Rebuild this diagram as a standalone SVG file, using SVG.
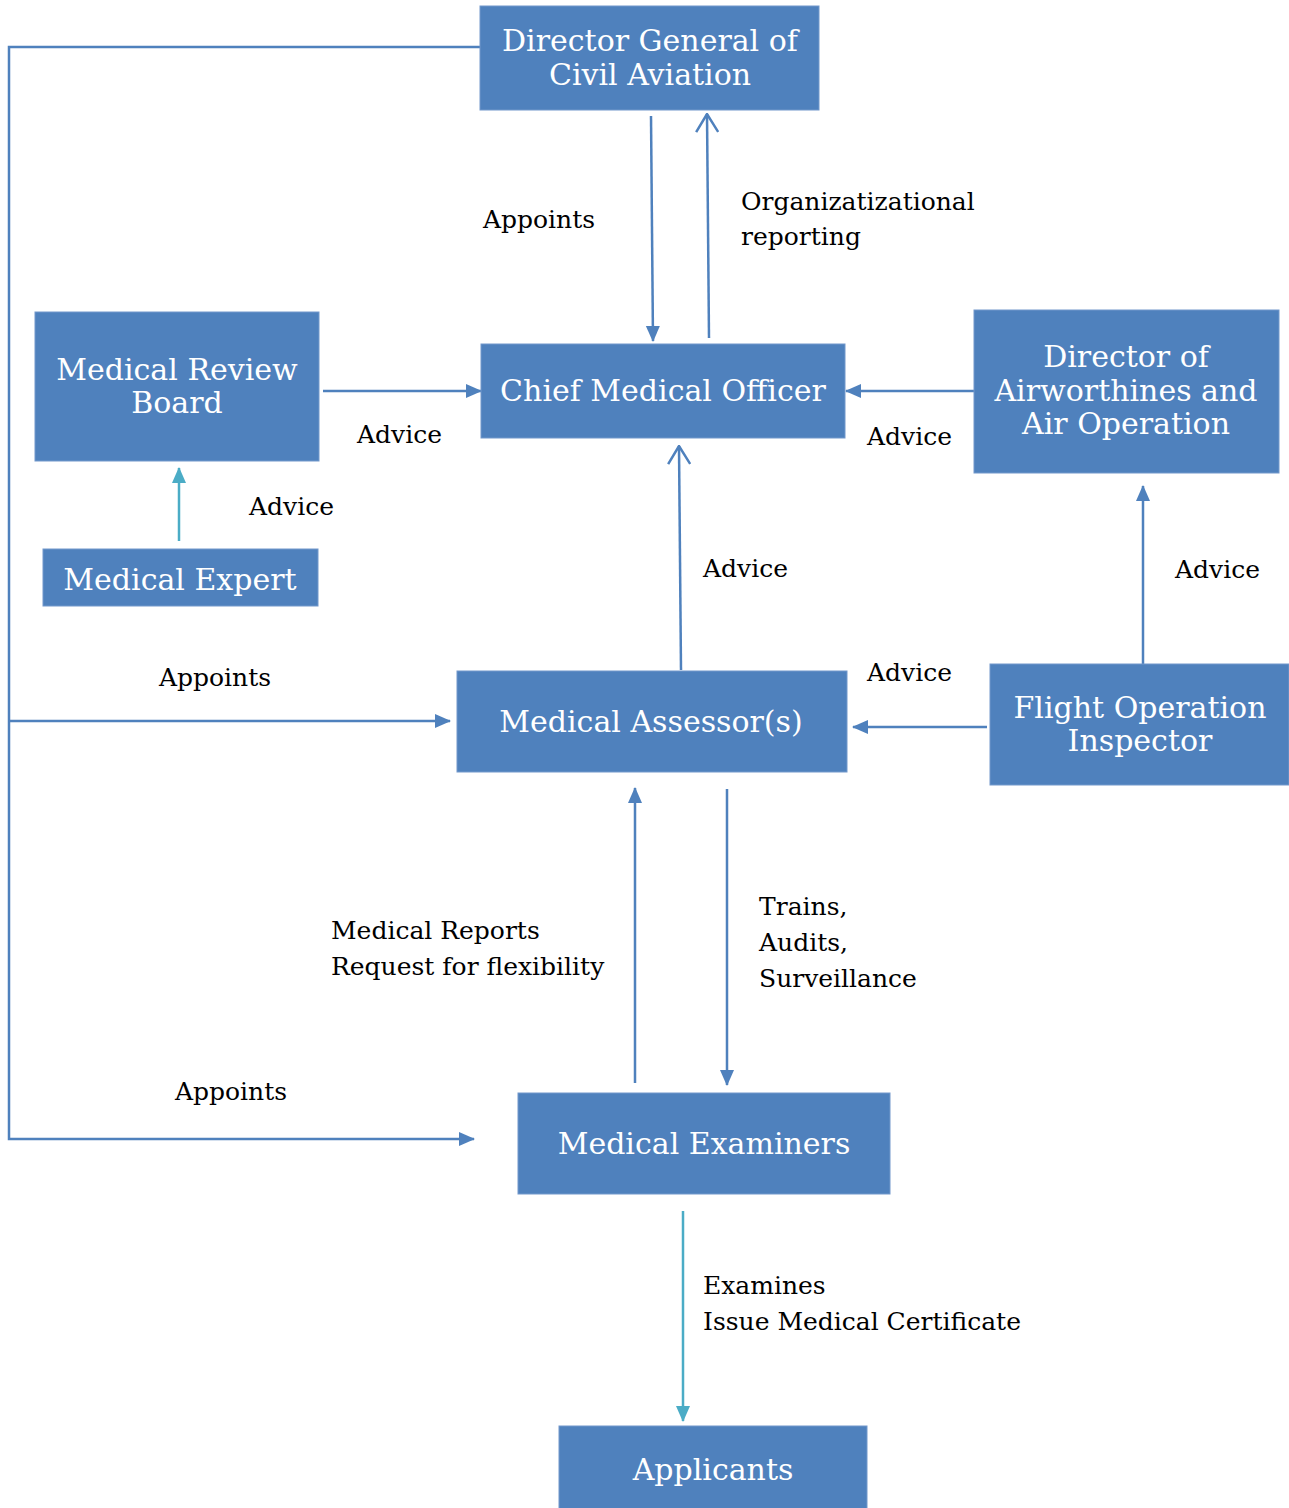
<svg xmlns="http://www.w3.org/2000/svg" width="1289" height="1508" viewBox="0 0 1289 1508">
<style>
.box{fill:#4f81bd;stroke:#7298cb;stroke-width:1}
.nt{font-family:"DejaVu Serif","Liberation Serif",serif;font-size:30px;fill:#ffffff;text-anchor:middle}
.lb{font-family:"DejaVu Serif","Liberation Serif",serif;font-size:25px;fill:#000000}
.ln{fill:none;stroke:#4f81bd;stroke-width:2.5}
.tl{fill:none;stroke:#4bacc6;stroke-width:2.5}
</style>
<defs>
<marker id="a" markerWidth="8" markerHeight="8" refX="7" refY="4" orient="auto" markerUnits="userSpaceOnUse" viewBox="0 0 8 8"><path d="M0,0 L8,4 L0,8 Z" fill="#4f81bd" transform="scale(1)"/></marker>
<marker id="af" markerWidth="16" markerHeight="16" refX="15" refY="8" orient="auto" markerUnits="userSpaceOnUse" viewBox="0 0 16 16"><path d="M0,1 L16,8 L0,15 Z" fill="#4f81bd"/></marker>
<marker id="at" markerWidth="16" markerHeight="16" refX="15" refY="8" orient="auto" markerUnits="userSpaceOnUse" viewBox="0 0 16 16"><path d="M0,1 L16,8 L0,15 Z" fill="#4bacc6"/></marker>
<marker id="ao" markerWidth="20" markerHeight="24" refX="19" refY="12" orient="auto" markerUnits="userSpaceOnUse" viewBox="0 0 20 24"><path d="M1,1 L19,12 L1,23" fill="none" stroke="#4f81bd" stroke-width="2.5"/></marker>
</defs>

<g id="connectors">
<polyline class="ln" points="480,47 9,47 9,1139 474,1139" marker-end="url(#af)"/>
<line class="ln" x1="9" y1="721" x2="450" y2="721" marker-end="url(#af)"/>
<line class="ln" x1="651" y1="116" x2="653" y2="341" marker-end="url(#af)"/>
<line class="ln" x1="709" y1="338" x2="707" y2="114" marker-end="url(#ao)"/>
<line class="ln" x1="323" y1="391" x2="481" y2="391" marker-end="url(#af)"/>
<line class="ln" x1="974" y1="391" x2="846" y2="391" marker-end="url(#af)"/>
<line class="tl" x1="179" y1="541" x2="179" y2="468" marker-end="url(#at)"/>
<line class="ln" x1="681" y1="670" x2="679" y2="446" marker-end="url(#ao)"/>
<line class="ln" x1="1143" y1="664" x2="1143" y2="486" marker-end="url(#af)"/>
<line class="ln" x1="987" y1="727" x2="853" y2="727" marker-end="url(#af)"/>
<line class="ln" x1="635" y1="1083" x2="635" y2="788" marker-end="url(#af)"/>
<line class="ln" x1="727" y1="789" x2="727" y2="1085" marker-end="url(#af)"/>
<line class="tl" x1="683" y1="1211" x2="683" y2="1421" marker-end="url(#at)"/>
</g>

<g id="dgca"><rect class="box" x="480" y="6" width="339" height="104"/>
<text class="nt" x="650" y="51">Director General of</text><text class="nt" x="650" y="85">Civil Aviation</text></g>

<g id="cmo"><rect class="box" x="481" y="344" width="364" height="94"/>
<text class="nt" x="663" y="401">Chief Medical Officer</text></g>

<g id="mrb"><rect class="box" x="35" y="312" width="284" height="149"/>
<text class="nt" x="177" y="380">Medical Review</text><text class="nt" x="177" y="413">Board</text></g>

<g id="expert"><rect class="box" x="43" y="549" width="275" height="57"/>
<text class="nt" x="180" y="590">Medical Expert</text></g>

<g id="daao"><rect class="box" x="974" y="310" width="305" height="163"/>
<text class="nt" x="1126" y="367">Director of</text><text class="nt" x="1126" y="401">Airworthines and</text><text class="nt" x="1126" y="434">Air Operation</text></g>

<g id="assessor"><rect class="box" x="457" y="671" width="390" height="101"/>
<text class="nt" x="651" y="732">Medical Assessor(s)</text></g>

<g id="foi"><rect class="box" x="990" y="664" width="299" height="121"/>
<text class="nt" x="1140" y="718">Flight Operation</text><text class="nt" x="1140" y="751">Inspector</text></g>

<g id="examiners"><rect class="box" x="518" y="1093" width="372" height="101"/>
<text class="nt" x="704" y="1154">Medical Examiners</text></g>

<g id="applicants"><rect class="box" x="559" y="1426" width="308" height="84"/>
<text class="nt" x="713" y="1480">Applicants</text></g>

<g id="labels">
<text class="lb" x="483" y="228">Appoints</text>
<text class="lb" x="741" y="210">Organizatizational</text>
<text class="lb" x="741" y="245">reporting</text>
<text class="lb" x="357" y="443">Advice</text>
<text class="lb" x="249" y="515">Advice</text>
<text class="lb" x="867" y="445">Advice</text>
<text class="lb" x="703" y="577">Advice</text>
<text class="lb" x="1175" y="578">Advice</text>
<text class="lb" x="867" y="681">Advice</text>
<text class="lb" x="159" y="686">Appoints</text>
<text class="lb" x="175" y="1100">Appoints</text>
<text class="lb" x="331" y="939">Medical Reports</text>
<text class="lb" x="331" y="975">Request for flexibility</text>
<text class="lb" x="759" y="915">Trains,</text>
<text class="lb" x="759" y="951">Audits,</text>
<text class="lb" x="759" y="987">Surveillance</text>
<text class="lb" x="703" y="1294">Examines</text>
<text class="lb" x="703" y="1330">Issue Medical Certificate</text>
</g>
</svg>
